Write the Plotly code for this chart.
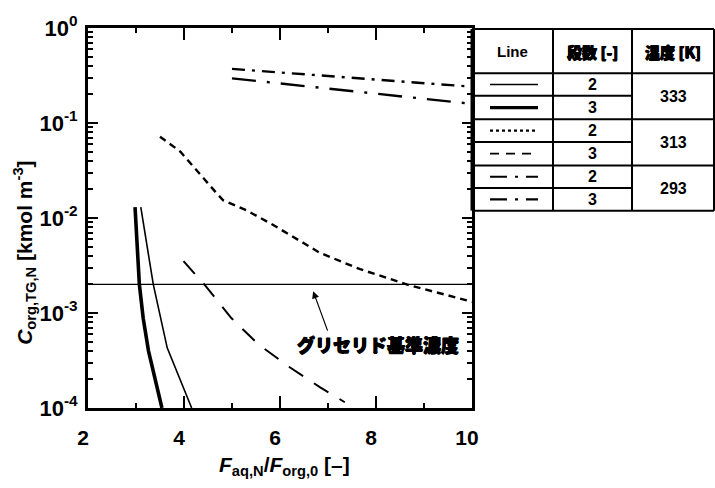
import plotly.graph_objects as go

# ---------------- data ----------------
x_333_2 = [3.10, 3.36, 3.65, 4.16]
y_333_2 = [1.30e-2, 2.0e-3, 4.3e-4, 1.0e-4]
x_333_3 = [2.98, 3.07, 3.15, 3.26, 3.54]
y_333_3 = [1.30e-2, 2.0e-3, 8.8e-4, 4.0e-4, 1.0e-4]
x_313_2 = [3.5, 3.92, 4.68, 4.82, 5.31, 5.86, 6.49, 6.83, 7.67, 8.71, 9.89, 10.0]
y_313_2 = [0.0718, 0.0502, 0.0182, 0.0153, 0.0120, 0.00843, 0.00545, 0.00430,
           0.00289, 0.00195, 0.00136, 0.00131]
x_313_3 = [3.99, 4.44, 4.99, 5.55, 6.21, 6.83, 7.35]
y_313_3 = [3.52e-3, 1.95e-3, 8.8e-4, 4.67e-4, 2.67e-4, 1.66e-4, 1.15e-4]
x_293_2 = [5.0, 10.0]
y_293_2 = [0.371, 0.241]
x_293_3 = [5.0, 10.0]
y_293_3 = [0.295, 0.159]
x_ref = [2.0, 10.0]
y_ref = [0.002, 0.002]
ref_label = "グリセリド基準濃度"

x_tickvals = [2, 4, 6, 8, 10]
y_tickvals = [1, 0.1, 0.01, 0.001, 0.0001]
y_ticktext = ["10<sup>0</sup>", "10<sup>-1</sup>", "10<sup>-2</sup>",
              "10<sup>-3</sup>", "10<sup>-4</sup>"]

table_header = ["Line", "段数 [-]", "温度 [K]"]
table_stages = ["2", "3", "2", "3", "2", "3"]
table_temps = ["333", "313", "293"]

# ---------------- styles ----------------
W, H = 715, 488
L, R, T, B = 88, 472, 21, 408
FONT = "Liberation Sans, Arial, sans-serif"
CJK = "Noto Sans CJK JP, sans-serif"
DD2 = "13px,7px,3px,7px"
DD3 = "24px,11px,3px,11px"
styles = [
    dict(width=1.6, dash="solid"),
    dict(width=3.6, dash="solid"),
    dict(width=2.4, dash="7px,5px"),
    dict(width=2.0, dash="17px,13px"),
    dict(width=2.4, dash=DD2),
    dict(width=2.4, dash=DD3),
]
legend_dash = ["solid", "solid", "dot", "9px,7px", "17px,8px,3px,8px", "17px,8px,3px,8px"]
HEAVY = "0.5px 0 0 black, -0.5px 0 0 black, 0 0.5px 0 black"


def px_x(p):
    return (p - L) / (R - L)


def px_y(p):
    return (B - p) / (B - T)


fig = go.Figure()
series = [(x_333_2, y_333_2), (x_333_3, y_333_3), (x_313_2, y_313_2),
          (x_313_3, y_313_3), (x_293_2, y_293_2), (x_293_3, y_293_3)]
for (xs, ys), st in zip(series, styles):
    fig.add_trace(go.Scatter(x=xs, y=ys, mode="lines",
                             line=dict(color="black", width=st["width"], dash=st["dash"]),
                             showlegend=False, hoverinfo="skip"))
fig.add_trace(go.Scatter(x=x_ref, y=y_ref, mode="lines",
                         line=dict(color="black", width=1.2),
                         showlegend=False, hoverinfo="skip"))

axis_common = dict(showline=True, linewidth=3, linecolor="black", mirror="allticks",
                   ticks="inside", tickcolor="black", tickwidth=2,
                   showgrid=False, zeroline=False)

fig.update_xaxes(range=[2, 10], tickvals=x_tickvals, ticklen=12,
                 ticklabelstandoff=9, ticklabelshift=-5,
                 tickfont=dict(family=FONT, size=21, color="black", weight="bold"),
                 minor=dict(dtick=1, ticks="inside", ticklen=5, tickwidth=1.5,
                            tickcolor="black", showgrid=False),
                 **axis_common)
fig.update_yaxes(type="log", range=[-4, 0], tickvals=y_tickvals, ticktext=y_ticktext,
                 ticklen=10, ticklabelstandoff=3,
                 tickfont=dict(family=FONT, size=22, color="black", weight="bold"),
                 minor=dict(dtick="D1", ticks="inside", ticklen=5, tickwidth=1.5,
                            tickcolor="black", showgrid=False),
                 **axis_common)

ann = []
# axis titles
ann.append(dict(text="<i>C</i><sub>org,TG,N</sub> [kmol m<sup>-3</sup>]",
                x=px_x(25), y=px_y(250), xref="paper", yref="paper",
                textangle=-90, showarrow=False, xanchor="center", yanchor="middle",
                font=dict(family=FONT, size=21, color="black", weight="bold")))
ann.append(dict(text="<i>F</i><sub>aq,N</sub>/<i>F</i><sub>org,0</sub> [–]",
                x=px_x(284), y=px_y(467), xref="paper", yref="paper",
                showarrow=False, xanchor="center", yanchor="middle",
                font=dict(family=FONT, size=21, color="black", weight="bold")))
# reference-line label and arrow
ann.append(dict(text=ref_label, x=8.04, y=-3.33, xref="x", yref="y",
                showarrow=False, xanchor="center", yanchor="middle",
                font=dict(family=CJK, size=18, color="black", weight=900, shadow=HEAVY)))
ann.append(dict(text="", x=6.69, y=-2.77, xref="x", yref="y",
                ax=15, ay=41, showarrow=True, arrowhead=2, arrowsize=1.2,
                arrowwidth=1.2, arrowcolor="black"))

# ---------------- legend table ----------------
shapes = []
col_x = [472, 553, 632, 714]
row_y = [22, 67, 90, 114, 137, 161, 184, 207]
lw = 2
shapes.append(dict(type="line", xref="paper", yref="paper", x0=px_x(472), x1=px_x(714),
                   y0=px_y(row_y[0]), y1=px_y(row_y[0]), line=dict(color="black", width=lw)))
for i, yy in enumerate(row_y[1:], start=1):
    full = i % 2 == 1
    shapes.append(dict(type="line", xref="paper", yref="paper", x0=px_x(472),
                       x1=px_x(714 if full else 632), y0=px_y(yy), y1=px_y(yy),
                       line=dict(color="black", width=lw)))
for cx in col_x[1:]:
    shapes.append(dict(type="line", xref="paper", yref="paper", x0=px_x(cx), x1=px_x(cx),
                       y0=px_y(row_y[0]), y1=px_y(row_y[-1]),
                       line=dict(color="black", width=lw)))
shapes.append(dict(type="line", xref="paper", yref="paper", x0=px_x(472), x1=px_x(472),
                   y0=px_y(row_y[0]), y1=px_y(row_y[-1]),
                   line=dict(color="black", width=3)))

hdr_y = (row_y[0] + row_y[1]) / 2
for j, txt in enumerate(table_header):
    cxm = (col_x[j] + col_x[j + 1]) / 2
    ann.append(dict(text=txt, x=px_x(cxm), y=px_y(hdr_y), xref="paper", yref="paper",
                    showarrow=False, xanchor="center", yanchor="middle",
                    font=dict(family=FONT if j == 0 else CJK, size=15, color="black",
                              weight="bold" if j == 0 else 900,
                              shadow="none" if j == 0 else HEAVY)))
for i, st in enumerate(table_stages):
    yc = (row_y[i + 1] + row_y[i + 2]) / 2
    ann.append(dict(text=st, x=px_x((col_x[1] + col_x[2]) / 2), y=px_y(yc),
                    xref="paper", yref="paper", showarrow=False,
                    xanchor="center", yanchor="middle",
                    font=dict(family=FONT, size=16, color="black", weight="bold")))
    shapes.append(dict(type="line", xref="paper", yref="paper", x0=px_x(490), x1=px_x(538),
                       y0=px_y(yc), y1=px_y(yc),
                       line=dict(color="black", width=styles[i]["width"] * 0.9,
                                 dash=legend_dash[i])))
for k, tt in enumerate(table_temps):
    yc = (row_y[1 + 2 * k] + row_y[3 + 2 * k]) / 2
    ann.append(dict(text=tt, x=px_x((col_x[2] + col_x[3]) / 2), y=px_y(yc),
                    xref="paper", yref="paper", showarrow=False,
                    xanchor="center", yanchor="middle",
                    font=dict(family=FONT, size=16, color="black", weight="bold")))

fig.update_layout(width=W, height=H, margin=dict(l=L, r=W - R, t=T, b=H - B),
                  paper_bgcolor="white", plot_bgcolor="white",
                  annotations=ann, shapes=shapes, showlegend=False)

fig.write_html("out.html")
